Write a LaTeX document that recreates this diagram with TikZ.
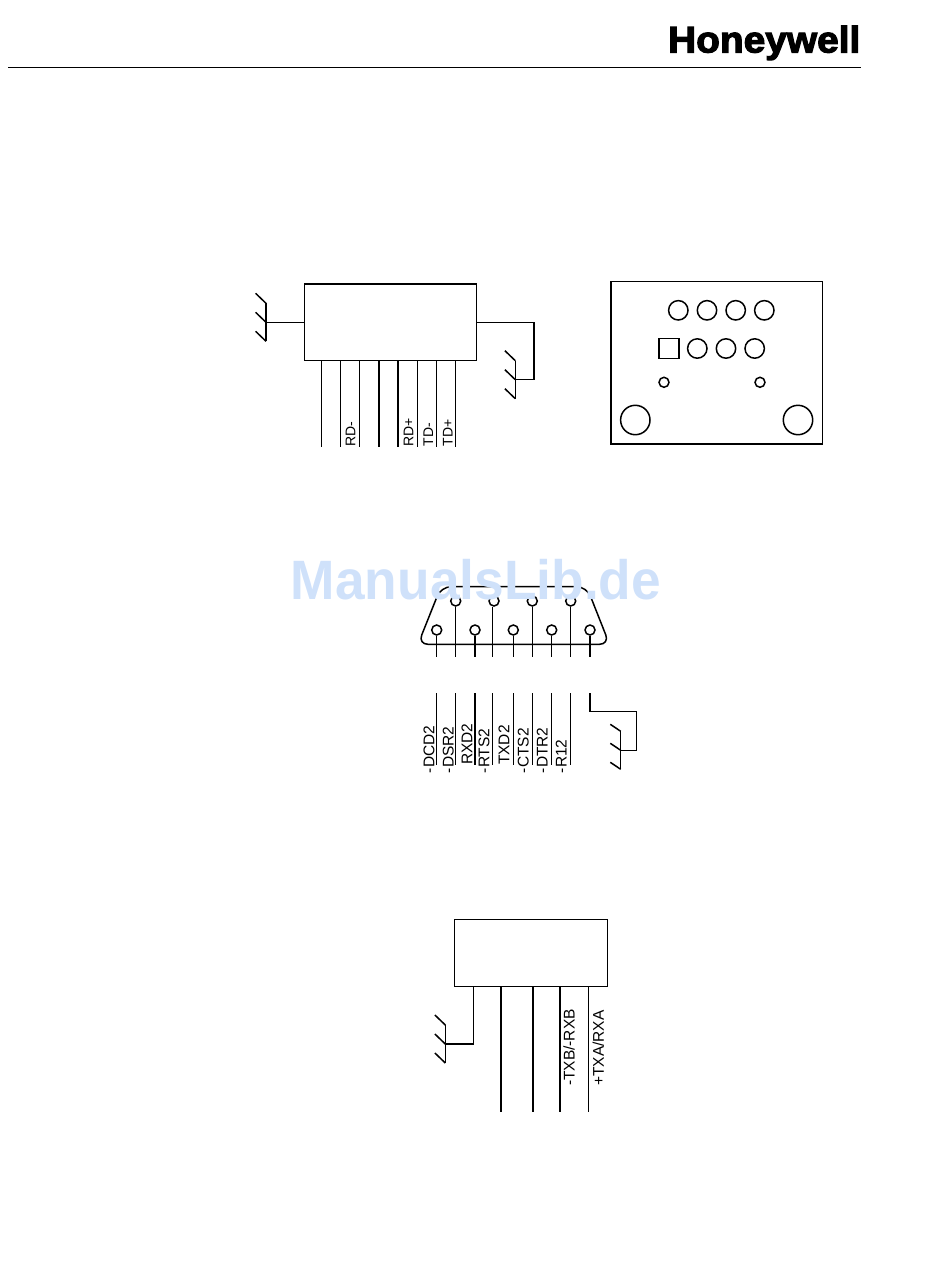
\documentclass[tikz,border=0pt]{standalone}
\usepackage{fontspec}
\usepackage{tikz}
\setmainfont{Liberation Sans}
\newfontfamily\logofont[FakeBold=3]{Liberation Sans Bold}
\newfontfamily\markfont{Liberation Sans Bold}
\usetikzlibrary{calc}
\definecolor{markblue}{HTML}{CFE1FA}

\tikzset{
	box/.style={draw, line width=1.5pt, inner sep=0pt},
	wire/.style={line width=1.5pt},
	hole/.style={draw, circle, line width=1.5pt, inner sep=0pt},
	pinlabel/.style={rotate=90, anchor=base west, inner sep=0pt, font=\fontsize{15.5}{15.5}\selectfont},
	smalllabel/.style={pinlabel, font=\fontsize{14}{14}\selectfont}
}

% earth symbol: name, x, top y, rise of the ticks
\newcommand{\earthsym}[4]{
	\coordinate (#1) at (#2,#3+19);
	\draw[wire] (#2,#3) -- (#2,#3+38);
	\foreach \dy in {0,19,38}
		\draw[wire] (#2,#3+\dy) -- (#2-10.4,#3+\dy-#4);
}

\begin{document}
\begin{tikzpicture}[x=1pt,y=-1pt]
	\useasboundingbox (0,0) rectangle (950,1266);

	% header
	\node[inner sep=0pt, anchor=base east, xscale=1.05, transform shape, font=\logofont\fontsize{37}{37}\selectfont] (logo) at (860.5,52.5) {Honeywell};
	\coordinate (ruleL) at (8,67.5);
	\coordinate (ruleR) at (860.5,67.5);
	\draw[wire] (ruleL) -- (ruleR);

	% top terminal block
	\node[box, minimum width=172.4pt, minimum height=76.7pt] (termA) at (390.5,322.3) {};
	\foreach \px/\lw [count=\n] in {321.5/1.5,340.3/1.5,359.7/1.5,378.7/2,398/1.5,417.3/1.5,436.3/1.5,455.7/1.5} {
		\coordinate (a\n) at (\px,447.3);
		\draw[line width=\lw pt] (termA.south -| a\n) -- (a\n);
	}
	\node[smalllabel] (rdm) at (355.3,446.7) {RD-};
	\node[smalllabel] (rdp) at (413.3,446.7) {RD+};
	\node[smalllabel] (tdm) at (433,446.7) {TD-};
	\node[smalllabel] (tdp) at (452.5,446.7) {TD+};
	\earthsym{gndA}{266}{303.3}{10}
	\draw[wire] (termA.west) -- (gndA);
	\earthsym{gndB}{515.3}{360.7}{10}
	\coordinate (bendB) at (534,322.3);
	\draw[wire] (termA.east) -- (bendB) |- (gndB);

	% rear view
	\node[box, minimum width=211.3pt, minimum height=162.3pt] (rear) at (716.7,362.8) {};
	\foreach \px [count=\n] in {678.3,707,735.7,764.3}
		\node[hole, minimum size=19.4pt] (rh\n) at (\px,310.3) {};
	\node[box, minimum size=19.6pt] (rsq) at (669,348.5) {};
	\foreach \px [count=\n] in {697.3,726,754.7}
		\node[hole, minimum size=19.4pt] (rm\n) at (\px,348.5) {};
	\node[hole, minimum size=10pt] (rs1) at (664,382.3) {};
	\node[hole, minimum size=10pt] (rs2) at (760,382.3) {};
	\node[hole, minimum size=29.4pt] (rb1) at (635.3,420) {};
	\node[hole, minimum size=29.4pt] (rb2) at (798,420) {};

	% d-sub
	\draw[wire, rounded corners=10pt] (441,586.7) -- (586.7,586.7) -- (609.5,644.3) -- (418,644.3) -- cycle;
	\foreach \hx/\hy/\lx/\lw [count=\n] in {436.7/630/436.7/1.5,455.7/601/455.7/1.5,475/630/475/2,494/601/492.3/1.5,513.3/630/513.3/1.5,532.3/601/532.3/1.5,551.7/630/551.7/1.5,570.7/601/570.7/1.5,590/630/590/1.5} {
		\node[hole, minimum size=10pt, fill=white] (d\n) at (\hx,\hy) {};
		\coordinate (dl\n) at (\lx,656.7);
		\draw[line width=\lw pt] (d\n.south -| dl\n) -- (dl\n);
	}
	\foreach \lx/\lw [count=\n] in {436.7/1.5,455.7/1.5,475/2,492.3/1.5,513.3/1.5,532.3/1.5,551.7/1.5,570.7/1.5} {
		\coordinate (s\n) at (\lx,693.3);
		\coordinate (e\n) at (\lx,765);
		\draw[line width=\lw pt] (s\n) -- (e\n);
	}
	\node[pinlabel] (dcd) at (434.3,773.3) {-DCD2};
	\node[pinlabel] (dsr) at (453.6,773.3) {-DSR2};
	\node[pinlabel] (rxd) at (472.3,765) {RXD2};
	\node[pinlabel] (rts) at (489.3,773.3) {-RTS2};
	\node[pinlabel] (txd) at (509.3,765) {TXD2};
	\node[pinlabel] (cts) at (528.6,773.3) {-CTS2};
	\node[pinlabel] (dtr) at (547.6,773.3) {-DTR2};
	\node[pinlabel] (rtw) at (566.6,773.3) {-R12};
	\earthsym{gndC}{620.7}{731.3}{7}
	\coordinate (sh) at (590,693.3);
	\coordinate (bendC) at (636.7,711.7);
	\draw[wire] (sh) |- (bendC) |- (gndC);

	% bottom terminal block
	\node[box, minimum width=153.4pt, minimum height=67.4pt] (termB) at (531,953) {};
	\foreach \px [count=\n] in {501,533,560,588.7} {
		\coordinate (b\n) at (\px,1112);
		\draw[wire] (termB.south -| b\n) -- (b\n);
	}
	\earthsym{gndD}{445.3}{1025}{10}
	\coordinate (bendD) at (473.7,1044);
	\draw[wire] (termB.south -| bendD) -- (bendD) -- (gndD);
	\node[pinlabel] (txb) at (574.5,1086) {-TXB/-RXB};
	\node[pinlabel] (txa) at (603.8,1086) {+TXA/RXA};

	% watermark on top of the drawing
	\node[inner sep=0pt, anchor=base, xscale=.96, transform shape, text=markblue, font=\markfont\fontsize{55.5}{55.5}\selectfont] (mark) at (476,599.5) {ManualsLib.de};
\end{tikzpicture}
\end{document}
